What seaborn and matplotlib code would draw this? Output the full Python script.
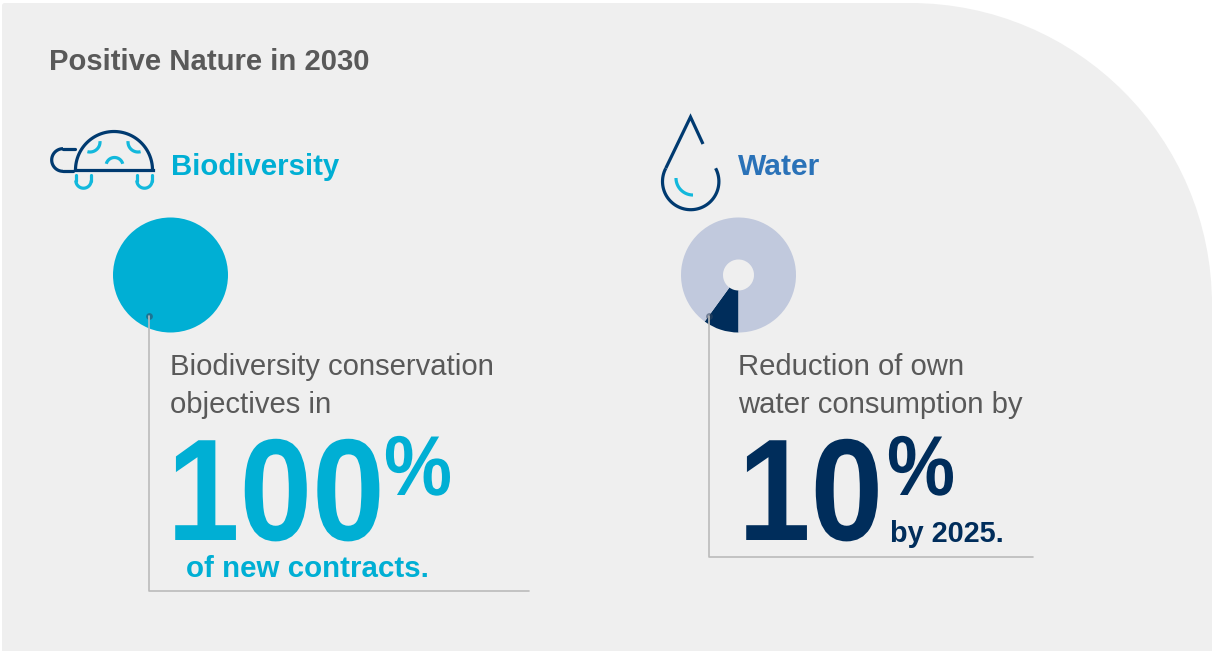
import matplotlib
matplotlib.use("Agg")
import matplotlib.pyplot as plt
import matplotlib.patheffects as pe
import numpy as np
import seaborn as sns
from matplotlib.patches import PathPatch
from matplotlib.path import Path
from matplotlib.transforms import Affine2D

# Targets shown in the two rings
bio_share = [100, 0]
water_share = [10, 90]

title = "Positive Nature in 2030"
headings = ["Biodiversity", "Water"]
bio_body = ["Biodiversity conservation", "objectives in"]
water_body = ["Reduction of own", "water consumption by"]
big_numbers = ["100", "10"]
notes = ["of new contracts.", "by 2025."]

CYAN = "#00AFD4"
ICON_CYAN = "#12B8DC"
NAVY = "#002D5B"
ICON_NAVY = "#003A70"
BLUE = "#2A72B8"
PALE = "#C1C9DD"
PANEL = "#EFEFEF"
GREY = "#595959"
RULE = "#BBBBBB"

W, H = 1212, 651
sns.set_theme(style="white")
plt.rcParams["font.family"] = ["Liberation Sans", "DejaVu Sans"]

fig = plt.figure(figsize=(W / 100, H / 100), dpi=100, facecolor="white")


class Squeeze(pe.AbstractPathEffect):
    """Narrows a text horizontally about its anchor, for tight display numerals."""

    def __init__(self, sx, x0):
        super().__init__()
        self.sx, self.x0 = sx, x0

    def draw_path(self, renderer, gc, tpath, affine, rgbFace=None):
        squeezed = affine + Affine2D().translate(-self.x0, 0).scale(self.sx, 1).translate(self.x0, 0)
        renderer.draw_path(gc, tpath, squeezed, rgbFace)


def canvas(z):
    ax = fig.add_axes([0, 0, 1, 1], zorder=z)
    ax.set_xlim(0, W)
    ax.set_ylim(H, 0)
    ax.axis("off")
    ax.patch.set_alpha(0)
    return ax


def ring(cx, cy, r, values, colors, hole=None):
    ax = fig.add_axes([(cx - r) / W, 1 - (cy + r) / H, 2 * r / W, 2 * r / H], zorder=1)
    wedge = {"linewidth": 0}
    if hole:
        wedge["width"] = 1 - hole / r
    ax.pie(values, colors=colors, startangle=270, counterclock=False,
           radius=1, wedgeprops=wedge)
    ax.set_xlim(-1, 1)
    ax.set_ylim(-1, 1)
    ax.patch.set_alpha(0)


back = canvas(0)
k = 0.5523 * 302
outline = [(5, 3), (910, 3), (910 + k, 3), (1212, 305 - k), (1212, 305),
           (1212, 651), (2, 651), (2, 6), (2, 4), (3, 3), (5, 3)]
codes = [Path.MOVETO, Path.LINETO, Path.CURVE4, Path.CURVE4, Path.CURVE4,
         Path.LINETO, Path.LINETO, Path.LINETO, Path.CURVE4, Path.CURVE4, Path.CURVE4]
back.add_patch(PathPatch(Path(outline, codes), facecolor=PANEL, edgecolor="none"))

ring(170.5, 275, 57.5, bio_share, [CYAN, PALE])
ring(738.5, 275, 57.5, water_share, [NAVY, PALE], hole=15.5)

ax = canvas(2)


def label(x, y, s, px, color, bold=False, squeeze=None):
    t = ax.text(x, y, s, fontsize=px * 0.72, color=color, va="baseline", ha="left",
                fontweight="bold" if bold else "normal")
    if squeeze:
        t.set_path_effects([Squeeze(squeeze, x)])
    return t


# Leader rules running from each ring to its note
for xs, ys in [([149, 149, 529], [316, 591, 591]), ([709, 709, 1033], [316, 557, 557])]:
    sns.lineplot(x=xs, y=ys, sort=False, estimator=None, color=RULE, linewidth=1.2,
                 ax=ax, legend=False)
sns.scatterplot(x=[149, 709], y=[316, 316], color="#33455F", alpha=0.55, s=24,
                linewidth=0, ax=ax, legend=False)
ax.set_xlim(0, W)
ax.set_ylim(H, 0)
ax.axis("off")

lw_icon = 2.3


def arc(cx, cy, r, a0, a1, color):
    t = np.radians(np.linspace(a0, a1, 60))
    ax.plot(cx + r * np.cos(t), cy + r * np.sin(t), color=color, lw=lw_icon,
            solid_capstyle="butt", solid_joinstyle="round")


# Turtle icon: shell, head, legs and shell spots
arc(114, 170, 38.5, 180, 360, ICON_NAVY)
ax.plot([75, 153], [170, 170], color=ICON_NAVY, lw=lw_icon, solid_capstyle="projecting")
arc(63, 160, 11.3, 90, 270, ICON_NAVY)
ax.plot([63, 75], [148.7, 148.7], color=ICON_NAVY, lw=lw_icon)
ax.plot([63, 73], [171.3, 171.3], color=ICON_NAVY, lw=lw_icon)
for x0 in (83.5, 144.5):
    arc(x0, 180.5, 7.7, 0, 180, ICON_CYAN)
    ax.plot([x0 - 7.7, x0 - 7.7], [175, 180.5], color=ICON_CYAN, lw=lw_icon)
    ax.plot([x0 + 7.7, x0 + 7.7], [175, 180.5], color=ICON_CYAN, lw=lw_icon)
arc(90, 142, 10, -5, 105, ICON_CYAN)
arc(138, 142, 10, 75, 185, ICON_CYAN)
arc(114.5, 166, 8.5, 195, 345, ICON_CYAN)

# Droplet icon: open outline with an inner highlight
arc(690.7, 181.5, 28.2, -28, 208, ICON_NAVY)
ax.plot([665.8, 690.5, 703], [168.2, 117, 144], color=ICON_NAVY, lw=lw_icon,
        solid_joinstyle="miter", solid_capstyle="butt")
arc(693, 178, 17, 90, 180, ICON_CYAN)

label(49, 70, title, 29.2, GREY, True)
label(171, 175, headings[0], 29.4, CYAN, True)
label(738, 175, headings[1], 30, BLUE, True)

for i, s in enumerate(bio_body):
    label(170.5, 375 + 38 * i, s, 29.2, GREY)
for i, s in enumerate(water_body):
    label(738.5, 375 + 38 * i, s, 29.2, GREY)

label(167, 540, big_numbers[0], 145, CYAN, True, squeeze=0.9)
label(384, 495, "%", 85, CYAN, True, squeeze=0.9)
label(186, 577, notes[0], 29.5, CYAN, True)

label(738, 540, big_numbers[1], 145, NAVY, True, squeeze=0.9)
label(887, 495, "%", 85, NAVY, True, squeeze=0.9)
label(890, 542, notes[1], 28.9, NAVY, True)

fig.savefig("out.png", dpi=100, facecolor="white")
